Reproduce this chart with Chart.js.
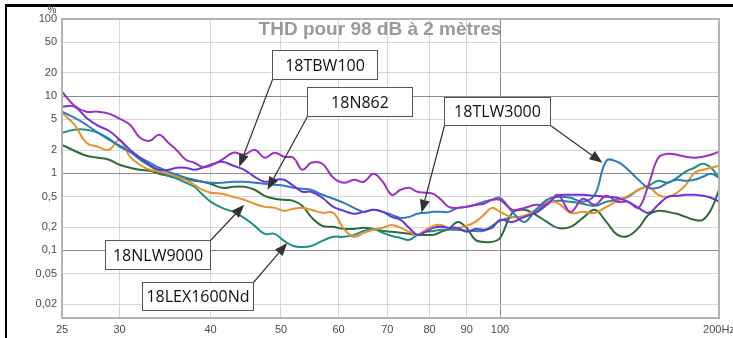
<!DOCTYPE html>
<html>
<head>
<meta charset="utf-8">
<script src="https://cdn.jsdelivr.net/npm/chart.js@4.4.1/dist/chart.umd.min.js"></script>
<style>
  html, body { margin: 0; padding: 0; background: #fff; }
  #wrap { position: relative; width: 733px; height: 338px; }
</style>
</head>
<body>
<div id="wrap"><canvas id="thd-chart"></canvas></div>
<script>
// frequencies (Hz) where the curves were read
const freqs = [25,26,27,28,29,30,31,32,33,34,35,36,37,38,39,40,41.5,43,44.5,46,47.5,49,50.5,52,53.5,55,
  57,59,61,63,65,67,69,71,73,75,77,79,81,83,85,87.5,90,92.5,95,97.5,100,104,108,112,116,120,
  125,130,135,140,145,150,155,160,165,170,175,180,185,190,195,200];

const xTicks = [25, 30, 40, 50, 60, 70, 80, 90, 100, 200];
const yTicks = [100, 50, 20, 10, 5, 2, 1, 0.5, 0.2, 0.1, 0.05, 0.02];
const title = "THD pour 98 dB à 2 mètres";

// THD in %
const thdMagenta = [11.4,7.52,6.29,6.29,5.93,5.10,4.26,2.89,2.64,3.16, 2.49,1.96,1.50,1.37,1.21,1.25,1.50,1.85,1.74,2.02,
  1.59,1.85,1.64,1.59,1.11,1.37,1.33,0.874,0.753,0.823, 0.776,0.985,0.776,0.526,0.611,0.648,0.575,0.558,0.542,0.453,
  0.367,0.356,0.367,0.390,0.402,0.453,0.453,0.336,0.356,0.390, 0.390,0.526,0.316,0.467,0.390,0.510,0.427,0.427,0.356,0.709,
  1.59,1.79,1.74,1.64,1.59,1.64,1.74,1.90];
const thd18TBW100 = [7.31,7.31,5.26,4.14,3.56,2.72,2.02,1.59,1.29,1.11, 1.11,1.18,1.18,1.11,1.18,1.29,1.41,1.25,1.11,0.901,
  0.776,0.823,0.823,0.688,0.575,0.575,0.481,0.367,0.326,0.298, 0.316,0.336,0.316,0.272,0.249,0.196,0.159,0.174,0.196,0.202,
  0.196,0.196,0.174,0.190,0.185,0.196,0.249,0.234,0.272,0.307, 0.390,0.510,0.526,0.526,0.510,0.495,0.481,0.427,0.356,0.307,
  0.390,0.495,0.510,0.526,0.526,0.510,0.481,0.427];
const thd18TLW3000 = [6.29,5.26,4.26,3.36,2.72,2.28,1.90,1.59,1.37,1.18, 1.05,0.956,0.874,0.823,0.776,0.753,0.753,0.776,0.776,0.753,
  0.731,0.709,0.688,0.648,0.629,0.611,0.526,0.467,0.414,0.356, 0.316,0.336,0.316,0.289,0.264,0.272,0.298,0.307,0.316,0.316,
  0.316,0.356,0.367,0.390,0.427,0.453,0.481,0.316,0.234,0.336, 0.453,0.495,0.481,0.427,0.526,1.45,1.41,1.11,0.823,0.648,
  0.648,0.753,0.823,0.799,0.823,0.901,0.985,0.874];
const thd18NLW9000 = [6.11,4.26,2.49,2.21,2.02,2.72,1.64,1.29,1.11,1.05, 0.985,0.901,0.823,0.709,0.611,0.558,0.542,0.495,0.453,0.402,
  0.367,0.356,0.326,0.346,0.356,0.336,0.307,0.307,0.190,0.150, 0.169,0.185,0.196,0.214,0.196,0.174,0.159,0.185,0.208,0.214,
  0.196,0.196,0.208,0.234,0.289,0.356,0.316,0.272,0.281,0.336, 0.427,0.414,0.307,0.316,0.307,0.367,0.439,0.510,0.611,0.668,
  0.526,0.495,0.558,0.709,1.01,1.11,1.18,1.25];
const thd18LEX1600Nd = [3.36,3.67,3.67,3.36,2.81,2.21,1.90,1.50,1.25,1.05, 0.928,0.848,0.753,0.668,0.530,0.430,0.356,0.316,0.264,0.208,
  0.164,0.164,0.133,0.114,0.111,0.114,0.133,0.150,0.150,0.159, 0.179,0.190,0.169,0.154,0.145,0.137,0.159,0.174,0.179,0.185,
  0.185,0.185,0.179,0.179,0.179,0.208,0.242,0.272,0.272,0.316, 0.414,0.439,0.427,0.402,0.378,0.427,0.453,0.495,0.611,0.688,
  0.799,0.753,0.874,1.05,1.18,1.33,1.18,0.874];
const thd18N862 = [2.34,1.96,1.69,1.59,1.50,1.29,1.18,1.11,1.08,0.985, 0.928,0.874,0.848,0.799,0.776,0.731,0.648,0.668,0.668,0.611,
  0.510,0.467,0.453,0.439,0.378,0.272,0.208,0.202,0.190,0.190, 0.196,0.190,0.179,0.174,0.169,0.164,0.159,0.159,0.159,0.174,
  0.190,0.234,0.196,0.137,0.129,0.129,0.145,0.307,0.336,0.289, 0.234,0.196,0.202,0.264,0.336,0.234,0.159,0.154,0.196,0.289,
  0.326,0.316,0.298,0.272,0.249,0.249,0.336,0.611];

// callouts: box centre and arrow tips in (Hz, %)
const callouts = [
  { text: "18TBW100", at: [57.4, 26.0], w: 105, h: 29, arrows: [{ from: "bl", to: [43.8, 1.21] }] },
  { text: "18N862", at: [64.2, 8.61], w: 105, h: 29, arrows: [{ from: "bl", to: [47.9, 0.611] }] },
  { text: "18TLW3000", at: [98.9, 6.48], w: 106, h: 28, arrows: [{ from: "bl", to: [78.0, 0.307] }, { from: "br", to: [138.3, 1.37] }] },
  { text: "18NLW9000", at: [33.8, 0.0887], w: 105, h: 29, arrows: [{ from: "tr", to: [44.5, 0.39] }] },
  { text: "18LEX1600Nd", at: [38.4, 0.0257], w: 111, h: 28, arrows: [{ from: "tr", to: [51.0, 0.125] }] }
];

const pts = vals => vals.map((v, i) => ({ x: freqs[i], y: v }));
const line = (label, vals, color) => ({
  label, data: pts(vals), borderColor: color, borderWidth: 2,
  pointRadius: 0, tension: 0.4, fill: false
});

function drawArrow(ctx, x0, y0, x1, y1) {
  const ang = Math.atan2(y1 - y0, x1 - x0);
  const len = 13, half = 5;
  const bx = x1 - len * Math.cos(ang), by = y1 - len * Math.sin(ang);
  ctx.beginPath();
  ctx.moveTo(x0, y0);
  ctx.lineTo(bx, by);
  ctx.stroke();
  ctx.beginPath();
  ctx.moveTo(x1, y1);
  ctx.lineTo(bx + half * Math.sin(ang), by - half * Math.cos(ang));
  ctx.lineTo(bx - half * Math.sin(ang), by + half * Math.cos(ang));
  ctx.closePath();
  ctx.fill();
}

const decor = {
  id: "decor",
  afterDraw(chart) {
    const { ctx, chartArea: a, scales: { x, y } } = chart;
    ctx.save();
    // plot frame
    ctx.strokeStyle = "#b4b4b4";
    ctx.lineWidth = 2;
    ctx.strokeRect(a.left, a.top, a.right - a.left, a.bottom - a.top);
    // page rules top / left
    ctx.fillStyle = "#000";
    ctx.fillRect(5, 4, 728, 3);
    ctx.fillRect(5, 4, 2, 334);
    // title
    ctx.fillStyle = "#9a9a9a";
    ctx.font = "bold 19px 'Liberation Sans', Arial, sans-serif";
    ctx.textAlign = "center";
    ctx.textBaseline = "alphabetic";
    ctx.fillText(title, 380, 35);
    // unit
    ctx.fillStyle = "#444";
    ctx.font = "10px 'Liberation Sans', Arial, sans-serif";
    ctx.textBaseline = "middle";
    ctx.fillText("%", 52, 10);
    // callouts
    ctx.lineWidth = 1.2;
    callouts.forEach(c => {
      const cx = x.getPixelForValue(c.at[0]), cy = y.getPixelForValue(c.at[1]);
      const x0 = Math.round(cx - c.w / 2) + 0.5, y0 = Math.round(cy - c.h / 2) + 0.5;
      const x1 = x0 + c.w, y1 = y0 + c.h;
      ctx.strokeStyle = "#333";
      ctx.fillStyle = "#333";
      c.arrows.forEach(ar => {
        const sx = ar.from.includes("r") ? x1 : x0;
        const sy = ar.from.includes("t") ? y0 : y1;
        drawArrow(ctx, sx, sy, x.getPixelForValue(ar.to[0]), y.getPixelForValue(ar.to[1]));
      });
      ctx.fillStyle = "#fff";
      ctx.fillRect(x0, y0, c.w, c.h);
      ctx.strokeStyle = "#555";
      ctx.lineWidth = 1;
      ctx.strokeRect(x0, y0, c.w, c.h);
      ctx.lineWidth = 1.2;
      ctx.fillStyle = "#111";
      ctx.font = "16px 'Open Sans', sans-serif";
      ctx.textAlign = "center";
      ctx.textBaseline = "middle";
      ctx.fillText(c.text, x0 + c.w / 2, y0 + c.h / 2 + 1);
    });
    ctx.restore();
  }
};

const majorY = [10, 1, 0.1];
const tickFont = { family: "'Liberation Sans', Arial, sans-serif", size: 11 };

new Chart(document.getElementById("thd-chart"), {
  type: "line",
  data: {
    datasets: [
      line("(sans étiquette)", thdMagenta, "#9b30c2"),
      line("18TBW100", thd18TBW100, "#6a35d6"),
      line("18TLW3000", thd18TLW3000, "#2b7cbc"),
      line("18NLW9000", thd18NLW9000, "#e8902c"),
      line("18LEX1600Nd", thd18LEX1600Nd, "#1e8e88"),
      line("18N862", thd18N862, "#2c6b3c")
    ]
  },
  options: {
    responsive: true,
    maintainAspectRatio: false,
    animation: false,
    devicePixelRatio: 1,
    layout: { padding: { top: 19, right: 14, left: 0, bottom: 0 } },
    plugins: { legend: { display: false }, tooltip: { enabled: false } },
    scales: {
      x: {
        type: "logarithmic",
        min: 25,
        max: 200,
        afterBuildTicks: s => { s.ticks = xTicks.map(v => ({ value: v })); },
        afterFit: s => { s.height = 20; s.paddingLeft = 0; s.paddingRight = 0; },
        border: { display: false },
        grid: {
          drawTicks: false,
          color: c => c.tick.value === 100 ? "#8c8c8c" : (c.tick.value === 25 || c.tick.value === 200 ? "rgba(0,0,0,0)" : "#d6d6d6")
        },
        ticks: {
          autoSkip: false, maxRotation: 0, minRotation: 0, padding: 5,
          color: "#4a4a4a", font: tickFont,
          callback: v => v === 200 ? "200Hz" : String(v)
        }
      },
      y: {
        type: "logarithmic",
        min: 0.0133,
        max: 100,
        afterBuildTicks: s => { s.ticks = yTicks.map(v => ({ value: v })); },
        afterFit: s => { s.width = 62; },
        border: { display: false },
        grid: {
          drawTicks: false,
          color: c => c.tick.value === 100 ? "rgba(0,0,0,0)" : (majorY.includes(c.tick.value) ? "#8c8c8c" : "#d6d6d6")
        },
        ticks: {
          autoSkip: false, padding: 5,
          color: "#4a4a4a", font: tickFont,
          callback: v => String(v).replace(".", ",")
        }
      }
    }
  },
  plugins: [decor]
});
</script>
</body>
</html>
